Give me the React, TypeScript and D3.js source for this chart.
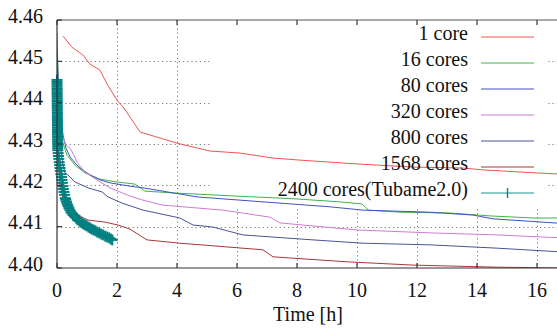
import React from "react";
import * as d3 from "d3";

const xTicks = [0, 2, 4, 6, 8, 10, 12, 14, 16];
const yTicks = [4.4, 4.41, 4.42, 4.43, 4.44, 4.45, 4.46];

const seriesNames = ["1 core", "16 cores", "80 cores", "320 cores", "800 cores", "1568 cores", "2400 cores(Tubame2.0)"];
const seriesColors = ["#f05454", "#3cb44a", "#4252c0", "#d27ad2", "#4a5298", "#a83636", "#1a9494"];

const core1H = [0.2, 0.5, 0.87, 1.1, 1.43, 1.67, 2.0, 2.23, 2.77, 4.0, 5.1, 6.1, 7.2, 8.1, 9.93, 11.93, 13.5, 14.27, 16.0, 16.8];
const core1V = [4.4561, 4.4534, 4.4515, 4.4493, 4.4479, 4.4445, 4.4406, 4.4387, 4.4329, 4.4302, 4.4283, 4.4278, 4.4266, 4.4261, 4.4252, 4.4244, 4.4242, 4.4237, 4.4230, 4.4227];

const core16H = [0, 0.067, 0.167, 0.333, 0.6, 0.933, 1.433, 2.0, 2.6, 2.93, 4.0, 6.0, 8.0, 9.43, 10.17, 10.37, 11.43, 13.1, 14.43, 15.87, 16.8];
const core16V = [4.4569, 4.4382, 4.431, 4.4273, 4.4249, 4.423, 4.4215, 4.4208, 4.4203, 4.4186, 4.4181, 4.4174, 4.4167, 4.416, 4.4155, 4.414, 4.4135, 4.4133, 4.4126, 4.4121, 4.4121];

const core80H = [0, 0.067, 0.133, 0.2, 0.3, 0.433, 0.6, 0.767, 1.1, 1.433, 1.767, 2.433, 2.867, 4.667, 6.867, 9.1, 10.2, 12.43, 13.87, 14.53, 16.8];
const core80V = [4.4527, 4.4406, 4.4358, 4.4322, 4.429, 4.4269, 4.4254, 4.4242, 4.4225, 4.4213, 4.4206, 4.4198, 4.4194, 4.4172, 4.416, 4.4148, 4.414, 4.4135, 4.4128, 4.4119, 4.4108];

const core320H = [0.067, 0.167, 0.3, 0.433, 0.567, 0.667, 0.933, 1.433, 1.767, 2.433, 2.867, 3.533, 5.533, 7.1, 7.433, 10.0, 12.43, 14.67, 16.8];
const core320V = [4.4382, 4.4322, 4.4298, 4.429, 4.4273, 4.4256, 4.4232, 4.4208, 4.4194, 4.4174, 4.4164, 4.4152, 4.414, 4.4123, 4.4109, 4.4092, 4.4085, 4.408, 4.4073];

const core800H = [0, 0.067, 0.133, 0.2, 0.267, 0.367, 0.6, 1.033, 1.5, 1.7, 2.167, 2.867, 4.1, 4.533, 5.2, 6.2, 8.533, 10.2, 12.43, 14.67, 16.8];
const core800V = [4.4503, 4.4358, 4.4285, 4.4249, 4.423, 4.4225, 4.4208, 4.4194, 4.4184, 4.4172, 4.4157, 4.414, 4.4121, 4.4104, 4.4099, 4.408, 4.4068, 4.406, 4.4056, 4.4048, 4.4039];

const core1568H = [0, 0.033, 0.1, 0.2, 0.3, 0.433, 0.833, 1.033, 1.6, 2.033, 2.433, 3.0, 4.1, 6.867, 7.2, 9.667, 11.87, 14.67, 16.8];
const core1568V = [4.4358, 4.4261, 4.4201, 4.4169, 4.4155, 4.4145, 4.4123, 4.4116, 4.4111, 4.4104, 4.4094, 4.4068, 4.406, 4.4044, 4.4027, 4.4015, 4.4007, 4.4002, 4.4];

const core2400H = [
  0.000, 0.001, 0.001, 0.002, 0.003, 0.004, 0.004, 0.005, 0.006, 0.006, 0.007, 0.008, 0.008, 0.009, 0.010, 0.011, 0.011, 0.012,
  0.013, 0.013, 0.014, 0.015, 0.015, 0.016, 0.017, 0.018, 0.018, 0.019, 0.020, 0.020, 0.021, 0.022, 0.023, 0.024, 0.025,
  0.027, 0.037, 0.047, 0.060, 0.073, 0.087, 0.100, 0.113, 0.130, 0.147, 0.163, 0.177, 0.197, 0.213, 0.233, 0.253, 0.277, 0.293,
  0.317, 0.340, 0.367, 0.397, 0.430, 0.467, 0.500, 0.540, 0.583, 0.633, 0.683, 0.740, 0.787, 0.833, 0.887, 0.940, 0.993, 1.047,
  1.100, 1.160, 1.220, 1.280, 1.340, 1.407, 1.473, 1.540, 1.607, 1.673, 1.740, 1.793, 1.843];
const core2400V = [
  4.4455, 4.4450, 4.4445, 4.4440, 4.4435, 4.4431, 4.4426, 4.4421, 4.4416, 4.4411, 4.4406, 4.4402, 4.4397, 4.4392, 4.4387, 4.4382, 4.4377, 4.4373,
  4.4368, 4.4363, 4.4358, 4.4353, 4.4348, 4.4344, 4.4339, 4.4334, 4.4329, 4.4324, 4.4319, 4.4315, 4.4310, 4.4305, 4.4300, 4.4295, 4.4290,
  4.4285, 4.4278, 4.4271, 4.4264, 4.4256, 4.4249, 4.4242, 4.4235, 4.4227, 4.4220, 4.4213, 4.4206, 4.4198, 4.4191, 4.4184, 4.4177, 4.4169, 4.4165,
  4.4160, 4.4155, 4.4150, 4.4145, 4.4140, 4.4135, 4.4132, 4.4128, 4.4125, 4.4121, 4.4117, 4.4114, 4.4111, 4.4109, 4.4106, 4.4104, 4.4102, 4.4099,
  4.4097, 4.4094, 4.4092, 4.4090, 4.4087, 4.4085, 4.4082, 4.4080, 4.4077, 4.4075, 4.4073, 4.4070, 4.4068];

const seriesH = [core1H, core16H, core80H, core320H, core800H, core1568H, core2400H];
const seriesV = [core1V, core16V, core80V, core320V, core800V, core1568V, core2400V];

const W = 557;
const H = 328;
const L = 57, R = 558, T = 20, B = 268;
const FONT = "'Liberation Serif', 'Times New Roman', 'DejaVu Serif', serif";

export default function App() {
  const x = d3.scaleLinear().domain([0, 16.7]).range([L, R]);
  const y = d3.scaleLinear().domain([4.4, 4.46]).range([B, T]);
  const line = d3.line<[number, number]>().x((d) => x(d[0])).y((d) => y(d[1]));

  const data = seriesH.map((hs, i) => hs.map((h, j) => [h, seriesV[i][j]] as [number, number]));

  const legendX0 = 481, legendX1 = 534, legendTextX = 468;
  const rowY = (i: number) => 37 + 26 * i;
  const textStyle = { fontFamily: FONT, fontSize: "20px" };
  const cs = 5.5;

  return (
    <svg width={W} height={H} style={{ position: "absolute", left: 0, top: 0, background: "#fff" }}>
      <defs>
        <clipPath id="plotclip">
          <rect x={L} y={T} width={R - L} height={B - T} />
        </clipPath>
      </defs>
      <rect x={0} y={0} width={W} height={H} fill="#fff" />
      <g stroke="#7a7a7a" strokeWidth={1} strokeDasharray="1.2,3">
        {xTicks.filter((t) => t > 0).map((t) => (
          <line key={"gx" + t} x1={Math.round(x(t)) + 0.5} x2={Math.round(x(t)) + 0.5} y1={T} y2={B} />
        ))}
        {yTicks.filter((t) => t > 4.4001 && t < 4.4599).map((t) => (
          <line key={"gy" + t} x1={L} x2={R} y1={Math.round(y(t)) + 0.5} y2={Math.round(y(t)) + 0.5} />
        ))}
      </g>
      <rect x={210} y={T} width={336} height={187} fill="#fff" />
      <g clipPath="url(#plotclip)" fill="none">
        {data.map((d, i) => (
          <path key={"s" + i} d={line(d) || ""} stroke={seriesColors[i]} strokeWidth={1} />
        ))}
      </g>
      <g stroke="#008080" strokeWidth={2} fill="none">
        {data[6].map((p, j) => (
          <g key={"m" + j}>
            <line x1={x(p[0]) - cs} x2={x(p[0]) + cs} y1={y(p[1])} y2={y(p[1])} />
            <line x1={x(p[0])} x2={x(p[0])} y1={y(p[1]) - cs} y2={y(p[1]) + cs} />
          </g>
        ))}
      </g>
      <g stroke="#333" strokeWidth={1.2} fill="none">
        <line x1={L} x2={L} y1={T} y2={B} />
        <line x1={L} x2={R} y1={B} y2={B} />
        <line x1={L} x2={R} y1={T} y2={T} stroke="#555" strokeWidth={1} />
        {xTicks.map((t) => (
          <g key={"tx" + t}>
            <line x1={x(t)} x2={x(t)} y1={B} y2={B - 5} />
            <line x1={x(t)} x2={x(t)} y1={T} y2={T + 5} />
          </g>
        ))}
        {yTicks.map((t) => (
          <line key={"ty" + t} x1={L} x2={L + 5} y1={y(t)} y2={y(t)} />
        ))}
      </g>
      <g fill="#111">
        {xTicks.map((t) => (
          <text key={"lx" + t} x={x(t)} y={297} textAnchor="middle" style={textStyle}>{t}</text>
        ))}
        {yTicks.map((t) => (
          <text key={"ly" + t} x={43} y={y(t) + 2.5} textAnchor="end" style={textStyle}>{t.toFixed(2)}</text>
        ))}
        <text x={308} y={321} textAnchor="middle" style={textStyle}>Time [h]</text>
      </g>
      <g fill="#111">
        {seriesNames.map((n, i) => (
          <g key={"lg" + i}>
            <text x={legendTextX} y={rowY(i) + 2.6} textAnchor="end" style={textStyle}>{n}</text>
            <line x1={legendX0} x2={legendX1} y1={rowY(i)} y2={rowY(i)} stroke={seriesColors[i]} strokeWidth={1} />
          </g>
        ))}
        <line x1={507.5} x2={507.5} y1={rowY(6) - 5} y2={rowY(6) + 5} stroke="#008080" strokeWidth={1.4} />
      </g>
    </svg>
  );
}
